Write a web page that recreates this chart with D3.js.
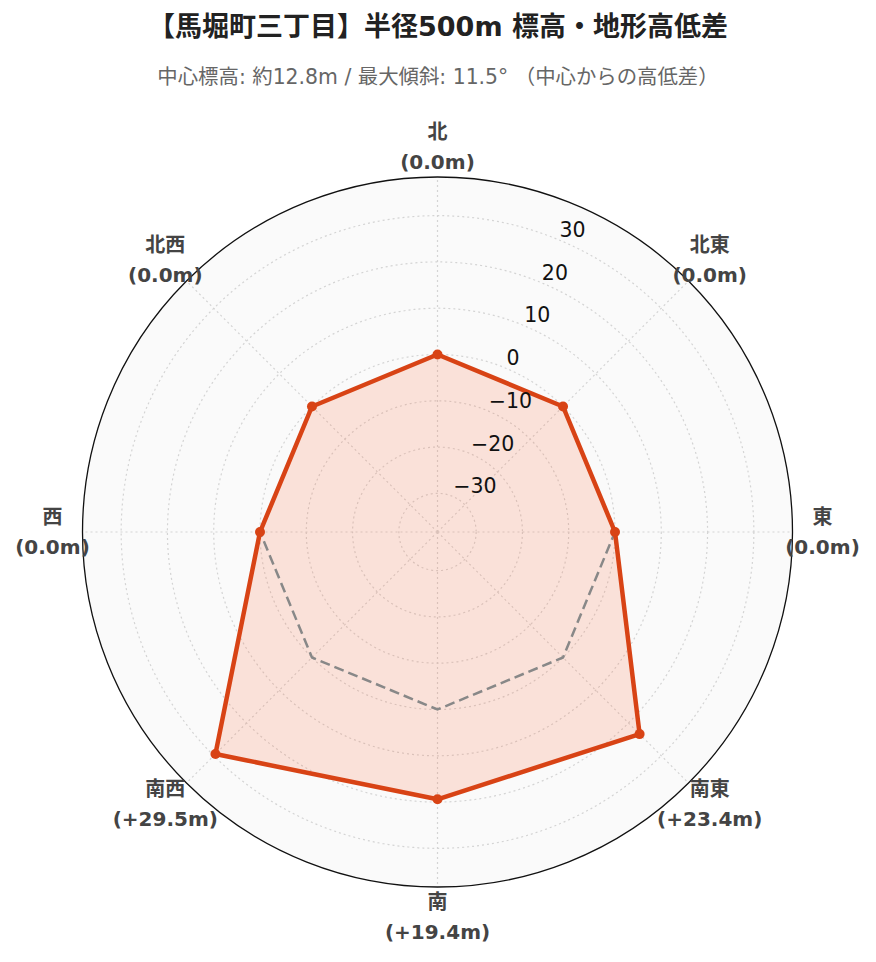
<!DOCTYPE html>
<html><head><meta charset="utf-8">
<script src="https://cdn.jsdelivr.net/npm/d3@7"></script>
<style>body{margin:0;background:#fff}</style>
</head><body><svg id="chart" width="876" height="962"></svg>
<script>
const directions = ['北','北東','東','南東','南','南西','西','北西'];
const diffs = [0.0, 0.0, 0.0, 23.4, 19.4, 29.5, 0.0, 0.0];
const baseline = [0, 0, 0, 0, 0, 0, 0, 0];
const radialTicks = [-30, -20, -10, 0, 10, 20, 30];
const radialRange = [-38.35, 38.35];
const titleText = '【馬堀町三丁目】半径500m 標高・地形高低差';
const subtitleText = '中心標高: 約12.8m / 最大傾斜: 11.5° （中心からの高低差）';

const W = 876, H = 962;
const cx = 437.5, cy = 532, R = 355;
const font = '"DejaVu Sans", "Noto Sans CJK JP", sans-serif';

const svg = d3.select('#chart');
const r = d3.scaleLinear().domain(radialRange).range([0, R]);
const ang = d3.scaleLinear().domain([0, directions.length]).range([0, 2 * Math.PI]);

svg.append('text').attr('x', W / 2).attr('y', 36).attr('text-anchor', 'middle')
  .style('font-family', font).style('font-size', '27px').style('font-weight', 'bold')
  .attr('fill', '#222').text(titleText);
svg.append('text').attr('x', W / 2).attr('y', 84).attr('text-anchor', 'middle')
  .style('font-family', font).style('font-size', '20.4px')
  .attr('fill', '#666').text(subtitleText);

const g = svg.append('g').attr('transform', `translate(${cx},${cy})`);

g.append('circle').attr('r', R).attr('fill', '#fafafa');

// circular grid
g.selectAll('circle.grid').data(radialTicks).join('circle').attr('class', 'grid')
  .attr('r', d => r(d)).attr('fill', 'none').attr('stroke', '#d4d4d4')
  .attr('stroke-width', 1.2).attr('stroke-dasharray', '2,3');
// angular grid
g.selectAll('line.agrid').data(directions).join('line').attr('class', 'agrid')
  .attr('x1', 0).attr('y1', 0)
  .attr('x2', (d, i) => R * Math.sin(ang(i)))
  .attr('y2', (d, i) => -R * Math.cos(ang(i)))
  .attr('stroke', '#d4d4d4').attr('stroke-width', 1.2).attr('stroke-dasharray', '2,3');

const line = d3.lineRadial().angle((d, i) => ang(i)).radius(d => r(d)).curve(d3.curveLinearClosed);

// data fill
g.append('path').datum(diffs).attr('d', line)
  .attr('fill', 'rgba(255,87,34,0.15)').attr('stroke', 'none');
// baseline (zero) reference
g.append('path').datum(baseline).attr('d', line)
  .attr('fill', 'none').attr('stroke', '#888').attr('stroke-width', 2.5)
  .attr('stroke-dasharray', '10,5');
// data line
g.append('path').datum(diffs).attr('d', line)
  .attr('fill', 'none').attr('stroke', '#d84315').attr('stroke-width', 4.5)
  .attr('stroke-linejoin', 'round');
g.selectAll('circle.pt').data(diffs).join('circle').attr('class', 'pt')
  .attr('cx', (d, i) => r(d) * Math.sin(ang(i)))
  .attr('cy', (d, i) => -r(d) * Math.cos(ang(i)))
  .attr('r', 5).attr('fill', '#d84315');

// outer circle
g.append('circle').attr('r', R).attr('fill', 'none').attr('stroke', '#111').attr('stroke-width', 1.3);

// radial tick labels along axis at 22.5deg
const axA = Math.PI / 8;
const fmt = d3.format('d');
g.selectAll('text.rtick').data(radialTicks).join('text').attr('class', 'rtick')
  .attr('x', d => r(d) * Math.sin(axA) + 1)
  .attr('y', d => -r(d) * Math.cos(axA) - 3)
  .attr('text-anchor', 'start')
  .style('font-family', font).style('font-size', '20.5px').attr('fill', '#111')
  .text(d => fmt(d));

// angular labels
const lblR = 385;
const lab = g.selectAll('text.alab').data(directions).join('text').attr('class', 'alab')
  .attr('text-anchor', 'middle')
  .style('font-family', font).style('font-size', '20px').style('font-weight', 'bold')
  .attr('fill', '#444');
const fmtDiff = v => v > 0 ? `(+${v.toFixed(1)}m)` : `(${v.toFixed(1)}m)`;
lab.append('tspan')
  .attr('x', (d, i) => lblR * Math.sin(ang(i)))
  .attr('y', (d, i) => -lblR * Math.cos(ang(i)) - 15)
  .attr('dominant-baseline', 'central').text(d => d);
lab.append('tspan')
  .attr('x', (d, i) => lblR * Math.sin(ang(i)))
  .attr('y', (d, i) => -lblR * Math.cos(ang(i)) + 15)
  .attr('dominant-baseline', 'central').text((d, i) => fmtDiff(diffs[i]));
</script></body></html>
